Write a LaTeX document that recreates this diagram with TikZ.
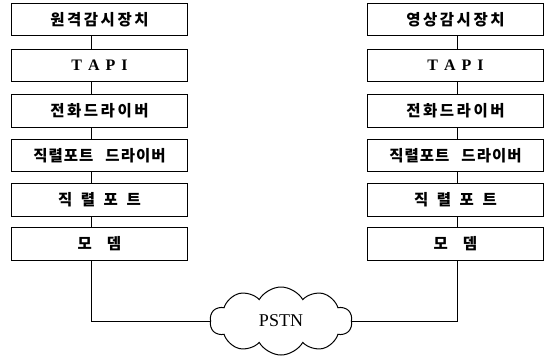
\documentclass[tikz,border=0pt]{standalone}
\usepackage{fontspec}
\setmainfont{Liberation Serif}
\newfontfamily\kr{Noto Sans CJK KR}
\usetikzlibrary{shapes.symbols}
\newcommand\tk{\kern2.5pt}
\begin{document}
\begin{tikzpicture}[x=1pt,y=-1pt,
  box/.style={draw, line width=1pt, minimum width=176pt, minimum height=32.5pt, inner sep=0pt,
    font=\kr\bfseries\fontsize{15.5}{16}\selectfont},
  tapi/.style={box, font=\bfseries\fontsize{16}{16}\selectfont},
  conn/.style={line width=1pt},
  cloudnode/.style={cloud, draw, line width=1pt, cloud puffs=10, cloud puff arc=120, aspect=2.1,
    minimum width=142pt, minimum height=68pt, inner sep=0pt, font=\fontsize{18}{18}\selectfont}]
\useasboundingbox (0,0) rectangle (552,356);
% left column
\node[box] (l1) at (99.5,19.5) {원\tk 격\tk 감\tk 시\tk 장\tk 치};
\node[tapi] (l2) at (99.5,65.5) {T\kern6pt A\kern6pt P\kern6pt I};
\node[box] (l3) at (99.5,111) {전\tk 화\tk 드\tk 라\tk 이\tk 버};
\node[box] (l4) at (99.5,155.5) {직\kern1pt 렬\kern1pt 포\kern1pt 트\kern12pt 드\kern1pt 라\kern1pt 이\kern1pt 버};
\node[box] (l5) at (99.5,200) {직\kern8.5pt 렬\kern8.5pt 포\kern8.5pt 트};
\node[box] (l6) at (99.5,244) {모\kern15pt 뎀};
% right column
\node[box] (r1) at (455.5,19.5) {영\tk 상\tk 감\tk 시\tk 장\tk 치};
\node[tapi] (r2) at (455.5,65.5) {T\kern6pt A\kern6pt P\kern6pt I};
\node[box] (r3) at (455.5,111) {전\tk 화\tk 드\tk 라\tk 이\tk 버};
\node[box] (r4) at (455.5,155.5) {직\kern1pt 렬\kern1pt 포\kern1pt 트\kern12pt 드\kern1pt 라\kern1pt 이\kern1pt 버};
\node[box] (r5) at (455.5,200) {직\kern8.5pt 렬\kern8.5pt 포\kern8.5pt 트};
\node[box] (r6) at (455.5,244) {모\kern15pt 뎀};
% cloud
\node[cloudnode] (pstn) at (281,321) {PSTN};
\coordinate (lx) at (91,0);
\coordinate (rx) at (457,0);
\foreach \a/\b in {l1/l2,l2/l3,l3/l4,l4/l5,l5/l6}
  \draw[conn] (\a.south -| lx) -- (\b.north -| lx);
\foreach \a/\b in {r1/r2,r2/r3,r3/r4,r4/r5,r5/r6}
  \draw[conn] (\a.south -| rx) -- (\b.north -| rx);
\draw[conn] (l6.south -| lx) |- (pstn.west);
\draw[conn] (r6.south -| rx) |- (pstn.east);
\end{tikzpicture}
\end{document}
